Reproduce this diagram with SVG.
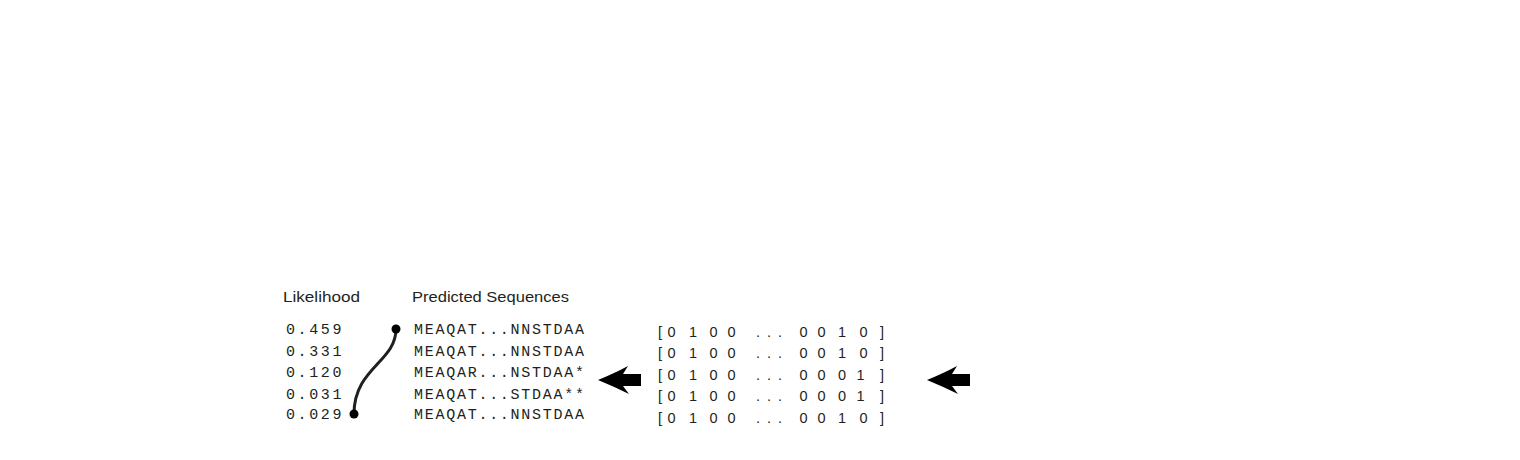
<svg xmlns="http://www.w3.org/2000/svg" width="1520" height="460" viewBox="0 0 1520 460">
  <style>
    .hdr { font-family: "Liberation Sans", Arial, sans-serif; font-size: 15.5px; fill: #231f20; }
    .mono { font-family: "Liberation Mono", "Courier New", monospace; font-size: 15px; fill: #231f20; }
    .mat { font-family: "Liberation Sans", Arial, sans-serif; font-size: 14.5px; fill: #231f20; }
    .conn { fill: none; stroke: #231f20; stroke-width: 3; stroke-linecap: round; }
    .dot { fill: #000; }
    .arrow { fill: #000; }
  </style>
  <defs>
    <path id="arrowShape" d="M927,380 Q944,373 957,366 L952,374 L970,374 L970,386 L952,386 L958,394 Q944,387 927,380 Z"/>
  </defs>
  <rect width="1520" height="460" fill="#fff"/>

  <g id="likelihood">
    <text class="hdr" x="283" y="301.5" textLength="77" lengthAdjust="spacingAndGlyphs">Likelihood</text>
    <text class="mono" x="286" y="334" textLength="55.5" lengthAdjust="spacing">0.459</text>
    <text class="mono" x="286" y="355.5" textLength="55.5" lengthAdjust="spacing">0.331</text>
    <text class="mono" x="286" y="377" textLength="55.5" lengthAdjust="spacing">0.120</text>
    <text class="mono" x="286" y="398.5" textLength="55.5" lengthAdjust="spacing">0.031</text>
    <text class="mono" x="286" y="419" textLength="55.5" lengthAdjust="spacing">0.029</text>
  </g>

  <g id="sequences">
    <text class="hdr" x="412" y="301.5" textLength="157" lengthAdjust="spacingAndGlyphs">Predicted Sequences</text>
    <text class="mono" x="414" y="334" textLength="170" lengthAdjust="spacing">MEAQAT...NNSTDAA</text>
    <text class="mono" x="414" y="355.5" textLength="170" lengthAdjust="spacing">MEAQAT...NNSTDAA</text>
    <text class="mono" x="414" y="377" textLength="170" lengthAdjust="spacing">MEAQAR...NSTDAA*</text>
    <text class="mono" x="414" y="398.5" textLength="170" lengthAdjust="spacing">MEAQAT...STDAA**</text>
    <text class="mono" x="414" y="419" textLength="170" lengthAdjust="spacing">MEAQAT...NNSTDAA</text>
  </g>

  <g id="matrix">
    <text class="mat" x="658 667.5 689 709.5 727.5 756 767 778 799.5 817.5 838 859.5 880" y="336.5">[0100...0010]</text>
    <text class="mat" x="658 667.5 689 709.5 727.5 756 767 778 799.5 817.5 838 859.5 880" y="358">[0100...0010]</text>
    <text class="mat" x="658 667.5 689 709.5 727.5 756 767 778 799.5 817.5 838 856.5 880" y="379.5">[0100...0001]</text>
    <text class="mat" x="658 667.5 689 709.5 727.5 756 767 778 799.5 817.5 838 856.5 880" y="401">[0100...0001]</text>
    <text class="mat" x="658 667.5 689 709.5 727.5 756 767 778 799.5 817.5 838 859.5 880" y="422.5">[0100...0010]</text>
  </g>

  <g id="connectors">
    <path class="conn" d="M396,329 C396,362 354,368 354,414"/>
    <circle class="dot" cx="396" cy="329" r="4.5"/>
    <circle class="dot" cx="354" cy="414" r="4.5"/>
    <use href="#arrowShape" class="arrow" transform="translate(-329,0)"/>
    <use href="#arrowShape" class="arrow"/>
  </g>
</svg>
